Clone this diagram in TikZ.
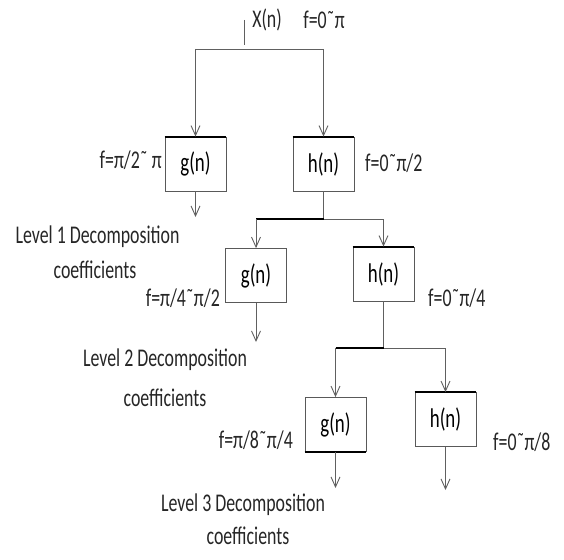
\documentclass[tikz,border=0pt]{standalone}
\usepackage{fontspec}
\setmainfont[FakeStretch=0.70]{Carlito}
\usetikzlibrary{arrows.meta}
\begin{document}
\begin{tikzpicture}[x=1pt,y=-1pt,
  lbl/.style={font=\fontsize{25.5}{30}\selectfont, inner sep=0pt, text=black!85},
  fbox/.style={draw=gray!70!black, line width=0.8pt, minimum width=61pt, minimum height=54pt, inner sep=0pt, fill=white, font=\fontsize{27}{30}\selectfont},
  thin/.style={draw=gray!75!black, line width=0.9pt},
  arr/.style={thin, -{Straight Barb[length=10pt,width=9pt]}},
  thickedge/.style={draw=black, line width=2pt},
]
\useasboundingbox (0,0) rectangle (564,559);

% boxes
\node[fbox] (g1) at (195.5,164) {g(n)};
\node[fbox] (h1) at (323.5,164) {h(n)};
\node[fbox] (g2) at (256,275.5) {g(n)};
\node[fbox] (h2) at (383.5,274) {h(n)};
\node[fbox] (g3) at (335.5,424.5) {g(n)};
\node[fbox] (h3) at (445.5,419.5) {h(n)};

% thick edges
\draw[thickedge] (g1.north west) -- (g1.north east);
\draw[thickedge] (h1.north west) -- (h1.north east);
\draw[thickedge] (h2.north west) -- (h2.north east);
\draw[thickedge] (g3.south west) -- (g3.south east);
\draw[thickedge] (h3.north west) -- (h3.north east);

% input
\coordinate (xt) at (244,20);
\coordinate (xb) at (244,45);
\draw[thin] (xt) -- (xb);
\coordinate (s1l) at (195.5,49);
\coordinate (s1r) at (323.5,49);
\draw[thin] (s1l) -- (s1r);
\draw[arr] (s1l) -- (g1.north);
\draw[arr] (s1r) -- (h1.north);

% level 1 outputs
\coordinate (o1) at (195.5,217);
\draw[arr] (g1.south) -- (o1);
\coordinate (s2) at (323.5,219);
\coordinate (s2l) at (256,219);
\coordinate (s2r) at (383.5,219);
\draw[thin] (h1.south) -- (s2);
\draw[thin] (s2) -- (s2r);
\draw[thickedge] (s2l) -- (s2);
\draw[arr] (s2l) -- (g2.north);
\draw[arr] (s2r) -- (h2.north);

% level 2 outputs
\coordinate (o2) at (256,342);
\draw[arr] (g2.south) -- (o2);
\coordinate (s3) at (383.5,348);
\coordinate (s3l) at (335.5,348);
\coordinate (s3r) at (445.5,348);
\draw[thin] (h2.south) -- (s3);
\draw[thin] (s3) -- (s3r);
\draw[thickedge] (s3l) -- (s3);
\draw[arr] (s3l) -- (g3.north);
\draw[arr] (s3r) -- (h3.north);

% level 3 outputs
\coordinate (o3g) at (335.5,488);
\coordinate (o3h) at (445.5,490);
\draw[arr] (g3.south) -- (o3g);
\draw[arr] (h3.south) -- (o3h);

% labels
\node[lbl] (tx) at (267,20) {X(n)};
\node[lbl] (tf0) at (324,20) {f=0˜π};
\node[lbl, anchor=east] (tfg1) at (162,160) {f=π/2˜ π};
\node[lbl, anchor=west] (tfh1) at (365,163) {f=0˜π/2};
\node[lbl] (tl1a) at (97.5,237) {Level 1 Decomposition};
\node[lbl] (tl1b) at (95,270) {coefficients};
\node[lbl, anchor=east] (tfg2) at (220,298) {f=π/4˜π/2};
\node[lbl, anchor=west] (tfh2) at (428,298) {f=0˜π/4};
\node[lbl] (tl2a) at (165,360) {Level 2 Decomposition};
\node[lbl] (tl2b) at (165,398) {coefficients};
\node[lbl, anchor=east] (tfg3) at (293,440) {f=π/8˜π/4};
\node[lbl, anchor=west] (tfh3) at (493,442) {f=0˜π/8};
\node[lbl] (tl3a) at (243,505) {Level 3 Decomposition};
\node[lbl] (tl3b) at (248,536) {coefficients};
\end{tikzpicture}
\end{document}
